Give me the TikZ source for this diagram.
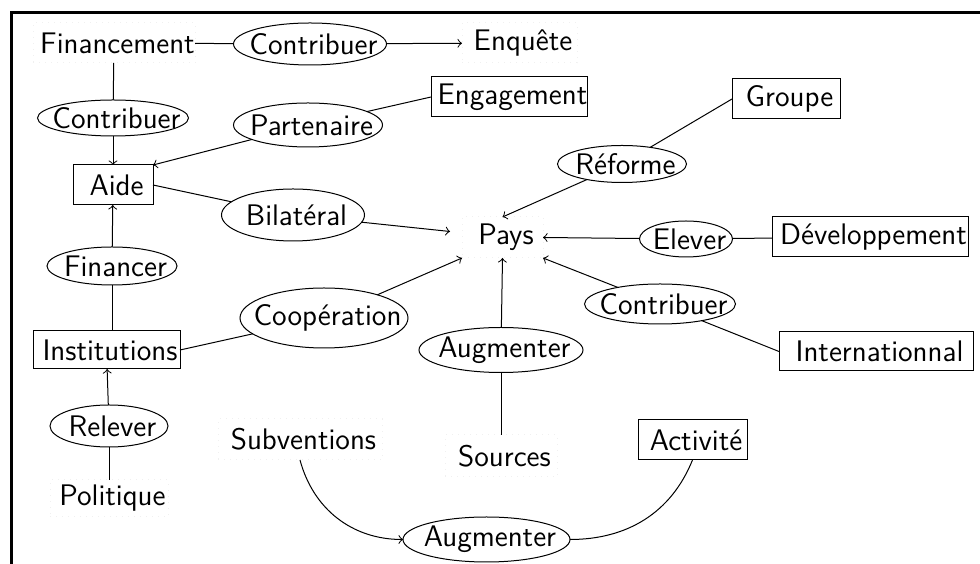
\documentclass[tikz,border=0pt]{standalone}
\usepackage{fontspec}
\usetikzlibrary{shapes.geometric,calc}
% keep a label from widening its frame; labels sit a little right of centre
\newcommand\fixw[1]{\makebox[0pt]{\hspace{2.8pt}#1}}
\begin{document}
\begin{tikzpicture}[x=0.4pt,y=-0.4pt,
  font=\sffamily\fontsize{11.9}{14}\selectfont,
  every node/.style={inner sep=0pt,outer sep=0pt},
  concept/.style 2 args={draw,rectangle,minimum width=#1*0.4pt,minimum height=#2*0.4pt},
  relation/.style 2 args={draw,ellipse,minimum width=#1*0.4pt,minimum height=#2*0.4pt},
  term/.style 2 args={draw=black!6,dotted,rectangle,minimum width=#1*0.4pt,minimum height=#2*0.4pt},
  link/.style={line width=0.4pt},
  flow/.style={->,line width=0.4pt},
  frame/.style={line width=1.2pt},
]
\useasboundingbox (0,0) rectangle (980,564);
\draw[frame] (11,580) -- (11,12.8) -- (995,12.8);

% concepts, relations and plain terms
\node[term={162}{40}] (fin) at (114,43) {\fixw{Financement}};
\node[relation={153}{42}] (ctop) at (310,44) {\fixw{Contribuer}};
\node[term={115}{40}] (enq) at (519.5,43) {\fixw{Enquête}};
\node[relation={151}{36}] (cleft) at (113,118) {\fixw{Contribuer}};
\node[concept={80}{40}] (aide) at (113,185) {\fixw{Aide}};
\node[relation={149}{44}] (part) at (308,125) {\fixw{Partenaire}};
\node[concept={156}{40}] (eng) at (509,97) {\fixw{Engagement}};
\node[relation={143}{52}] (bilat) at (293,215) {\fixw{Bilatéral}};
\node[relation={130}{38}] (finr) at (112,266) {\fixw{Financer}};
\node[concept={147}{38}] (inst) at (106.5,350) {\fixw{Institutions}};
\node[relation={168}{60}] (coop) at (324,318) {\fixw{Coopération}};
\node[relation={118}{42}] (rel) at (109,426) {\fixw{Relever}};
\node[term={118}{37}] (pol) at (109,498.5) {\fixw{Politique}};
\node[term={81}{41}] (pays) at (502.5,237.5) {\fixw{Pays}};
\node[concept={108}{40}] (grp) at (786,99) {\fixw{Groupe}};
\node[relation={129}{37}] (ref) at (622,164) {\fixw{Réforme}};
\node[concept={196}{40}] (dev) at (870,237) {\fixw{Développement}};
\node[relation={93}{36}] (elev) at (686,239) {\fixw{Elever}};
\node[relation={151}{40}] (cright) at (660,304) {\fixw{Contribuer}};
\node[concept={194}{39}] (intl) at (876,351.5) {\fixw{Internationnal}};
\node[relation={164}{45}] (augm) at (501,350) {\fixw{Augmenter}};
\node[term={112}{42}] (src) at (501,456) {\fixw{Sources}};
\node[term={164}{41}] (subv) at (300,439.5) {\fixw{Subventions}};
\node[concept={109}{40}] (act) at (692.5,440) {\fixw{Activité}};
\node[relation={167}{45}] (augb) at (486.5,539.5) {\fixw{Augmenter}};

% connectors
\draw[link] (fin) -- (ctop);
\draw[flow] (ctop) -- (enq);
\draw[link] (fin) -- (cleft);
\draw[flow] (cleft) -- (aide);
\draw[link] (eng.west) -- (part);
\draw[flow] (part) -- (aide.north east);
\draw[link] (aide.east) -- (bilat);
\draw[flow] (bilat) -- ($(pays.west)+(-12,-6)$);
\draw[link] (grp.west) -- (ref);
\draw[flow] (ref) -- (pays.north);
\draw[link] (dev) -- (elev);
\draw[flow] (elev) -- (pays.east);
\draw[link] (intl.west) -- (cright);
\draw[flow] (cright) -- (pays.south east);
\draw[link] (inst.east) -- (coop);
\draw[flow] (coop) -- (pays.south west);
\draw[link] (src) -- (augm);
\draw[flow] (augm) -- (pays.south);
\draw[link] (finr) -- (finr |- inst.north);
\draw[flow] (finr) -- (aide);
\draw[link] (pol) -- (rel);
\draw[flow] (rel) -- (inst);
\draw[flow] (subv.south) to[out=-75,in=180] (augb.west);
\draw[link] (augb.east) to[out=0,in=-112] (act.south);
\end{tikzpicture}
\end{document}
